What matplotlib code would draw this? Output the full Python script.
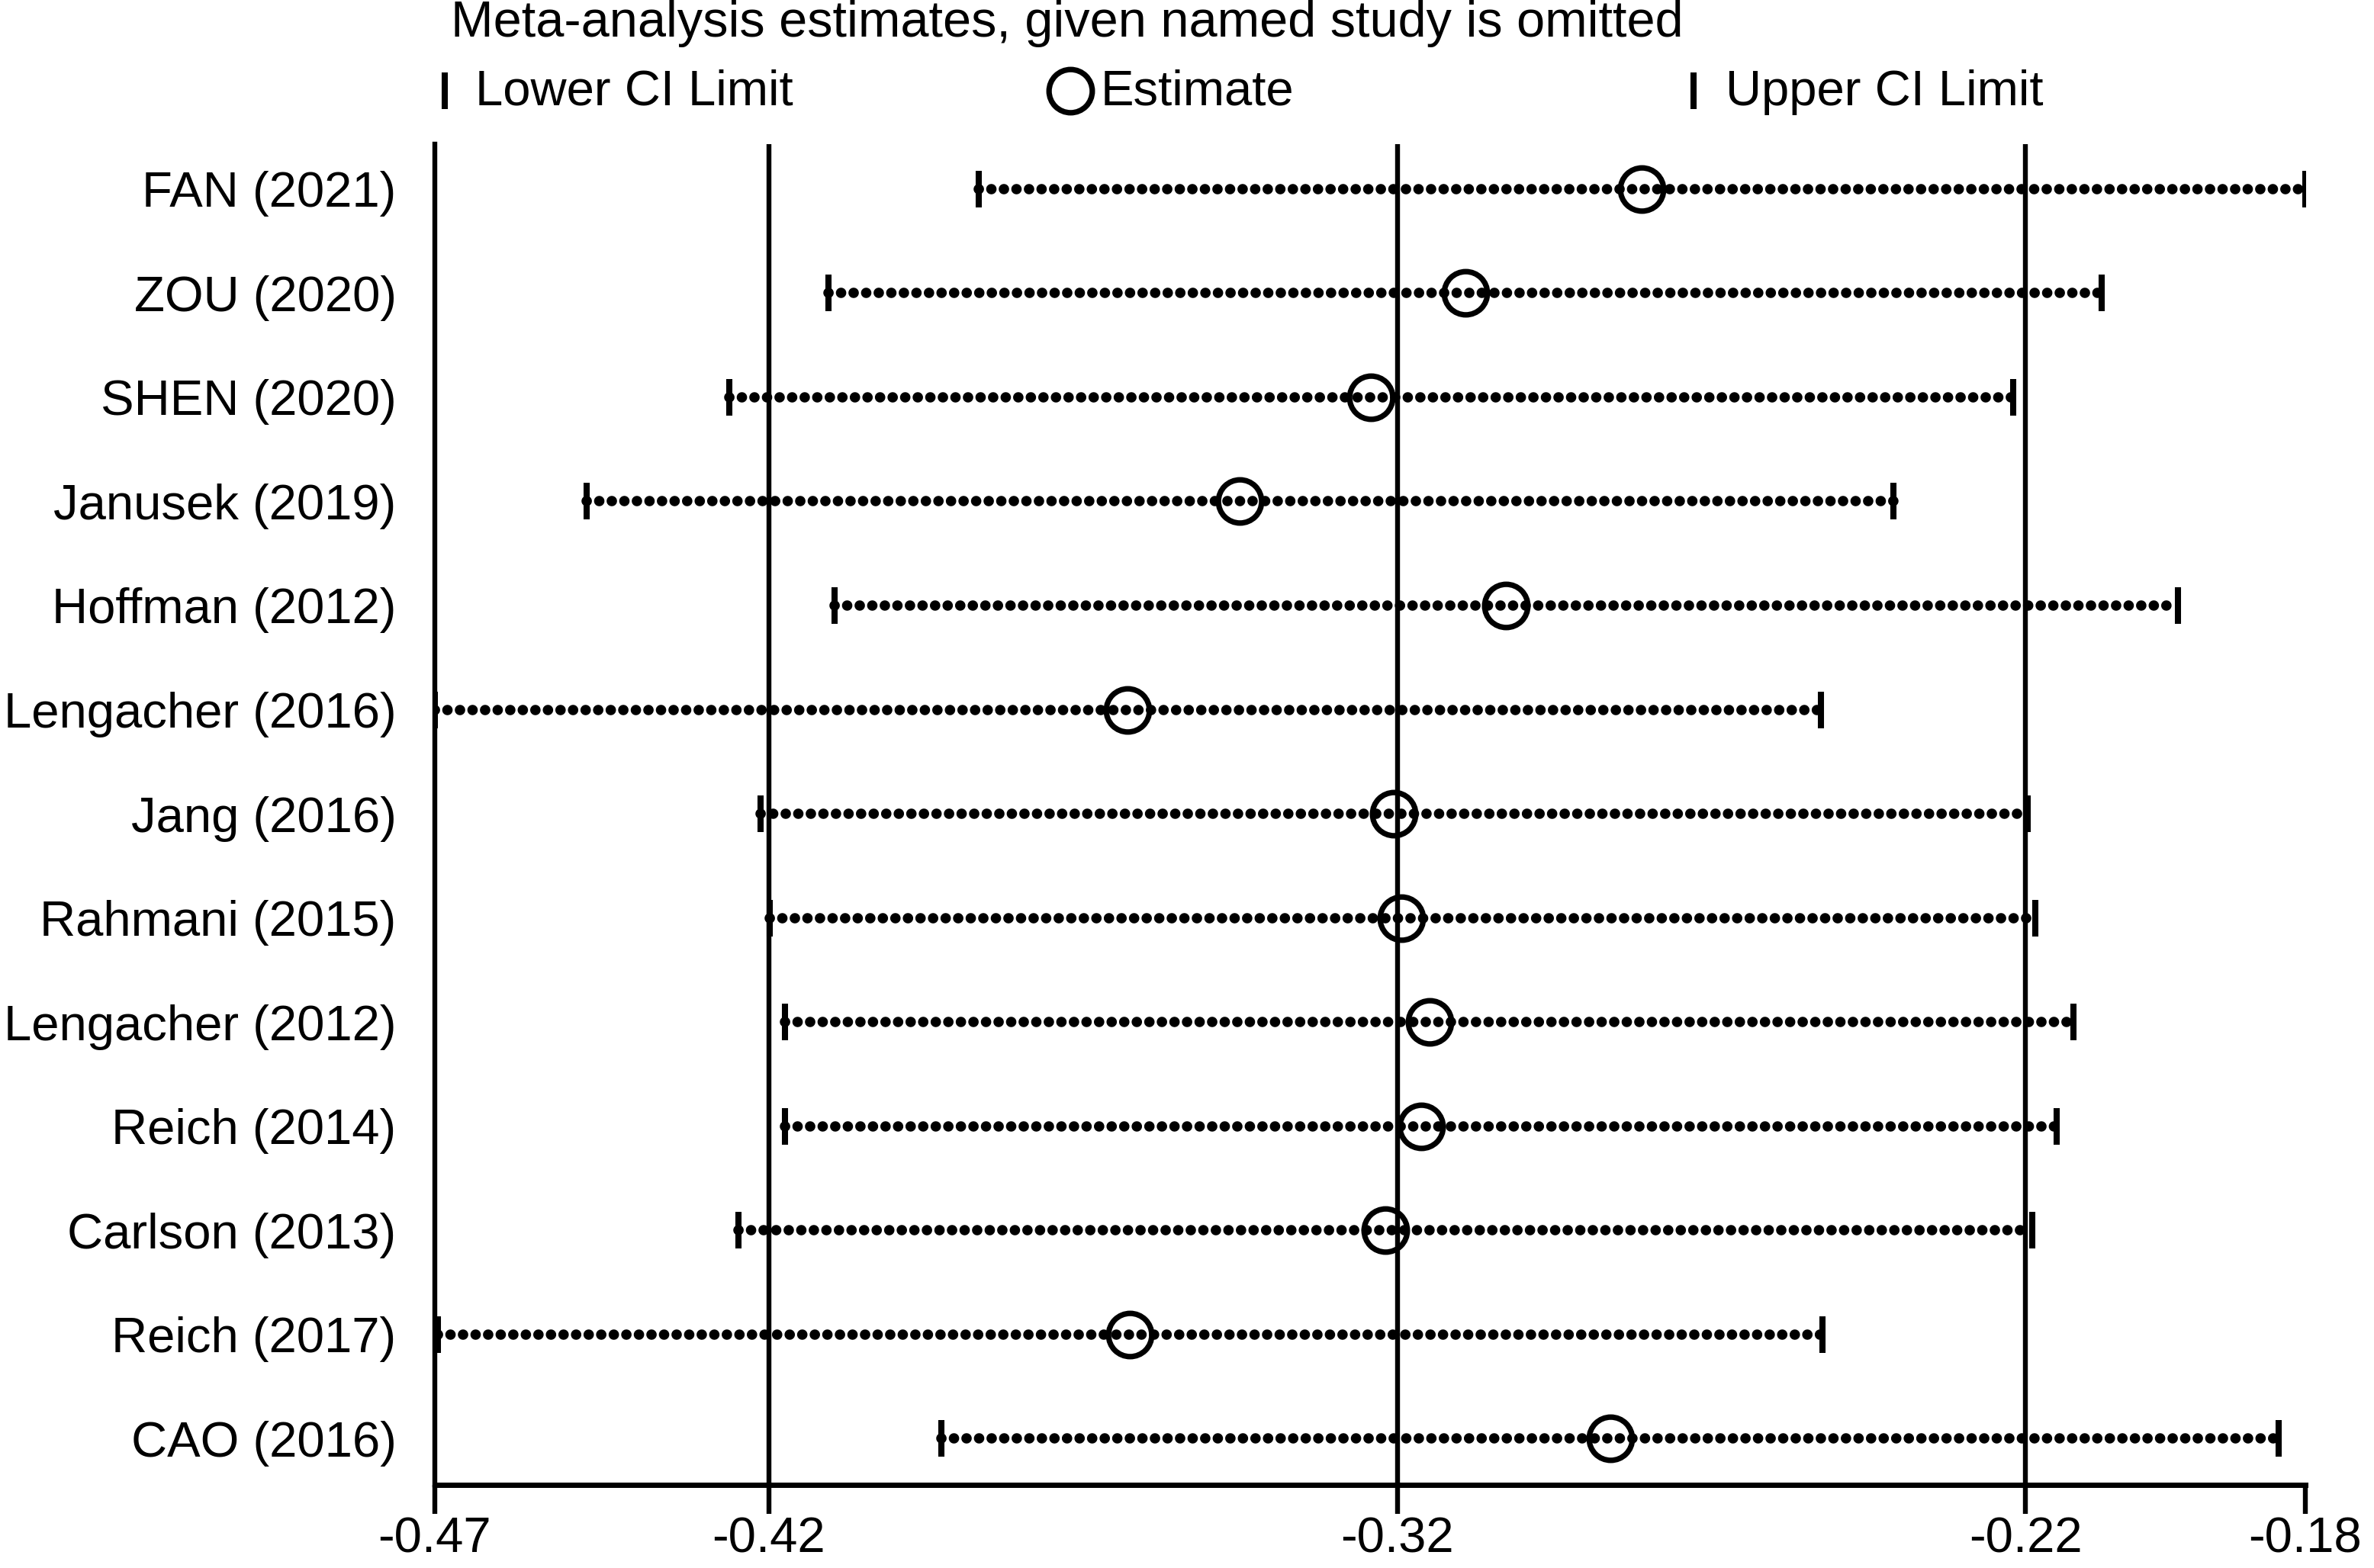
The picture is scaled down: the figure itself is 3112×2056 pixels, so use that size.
import matplotlib
matplotlib.use("Agg")
import matplotlib.pyplot as plt
from matplotlib.lines import Line2D

plt.rcParams['font.family'] = ['Liberation Sans', 'DejaVu Sans']

# ---- data ----
studies = ["FAN (2021)", "ZOU (2020)", "SHEN (2020)", "Janusek (2019)", "Hoffman (2012)",
           "Lengacher (2016)", "Jang (2016)", "Rahmani (2015)", "Lengacher (2012)",
           "Reich (2014)", "Carlson (2013)", "Reich (2017)", "CAO (2016)"]
lower = [-0.3866, -0.4105, -0.4263, -0.4490, -0.4095, -0.4732, -0.4213, -0.4199,
         -0.4174, -0.4174, -0.4248, -0.4727, -0.3925]
estimate = [-0.2811, -0.3092, -0.3242, -0.3451, -0.3027, -0.3629, -0.3206, -0.3193,
            -0.3149, -0.3162, -0.3219, -0.3626, -0.2861]
upper = [-0.1755, -0.2079, -0.2220, -0.2411, -0.1958, -0.2526, -0.2197, -0.2185,
         -0.2124, -0.2151, -0.2189, -0.2523, -0.1798]
overall = [-0.42, -0.32, -0.22]   # pooled lower CI, estimate, upper CI

title = "Meta-analysis estimates, given named study is omitted"
legend_labels = ["Lower CI Limit", "Estimate", "Upper CI Limit"]

# ---- figure ----
W, H = 3112, 2056
fig = plt.figure(figsize=(W / 200, H / 200), dpi=200)
ax = fig.add_axes([569.6 / W, 1 - 1946.5 / H, (3022 - 569.6) / W, (1946.5 - 189) / H])

FS = 23.5
ypos = list(range(len(studies)))

for x in overall:
    ax.axvline(x, color='black', lw=2.3, zorder=1)

for y, lo, est, up in zip(ypos, lower, estimate, upper):
    ax.plot([lo, up], [y, y], color='black', lw=4.9,
            linestyle=(0, (0.01, 1.2)), dash_capstyle='round', zorder=2)
ax.plot(lower, ypos, linestyle='none', marker='|', ms=17, mew=2.9, color='black', zorder=3)
ax.plot(upper, ypos, linestyle='none', marker='|', ms=17, mew=2.9, color='black', zorder=3)
ax.plot(estimate, ypos, linestyle='none', marker='o', ms=20.4, mew=2.6,
        mfc='none', mec='black', zorder=4)

xmin, xmax = min(lower), max(upper)
ax.set_xlim(xmin, xmax)
ax.set_ylim(len(studies) - 1 + 0.44, -0.43)

xt = [xmin] + overall + [xmax]
ax.set_xticks(xt)
ax.set_xticklabels(["%.2f" % v for v in xt], fontsize=FS)
ax.tick_params(axis='x', length=13.5, width=2.3, pad=1.5, direction='out')
ax.set_yticks(ypos)
ax.set_yticklabels(studies, fontsize=FS)
ax.tick_params(axis='y', length=0, pad=18)

for s in ['top', 'right']:
    ax.spines[s].set_visible(False)
ax.spines['left'].set_linewidth(2.3)
ax.spines['bottom'].set_linewidth(2.5)

# ---- title and legend ----
fig.text(591 / W, 1 - 48 / H, title, fontsize=24, ha='left', va='baseline')

ly = 1 - 119 / H
ty = 1 - 138 / H
fig.add_artist(Line2D([583 / W], [ly], transform=fig.transFigure, marker='|',
                      ms=17, mew=2.9, color='black', linestyle='none'))
fig.add_artist(Line2D([1403 / W], [ly], transform=fig.transFigure, marker='o',
                      ms=20.4, mew=2.6, mfc='none', mec='black', linestyle='none'))
fig.add_artist(Line2D([2220 / W], [ly], transform=fig.transFigure, marker='|',
                      ms=17, mew=2.9, color='black', linestyle='none'))
for xpx, lab in zip([623, 1443, 2262], legend_labels):
    fig.text(xpx / W, ty, lab, fontsize=FS, ha='left', va='baseline')

fig.savefig("out.png", dpi=200)
